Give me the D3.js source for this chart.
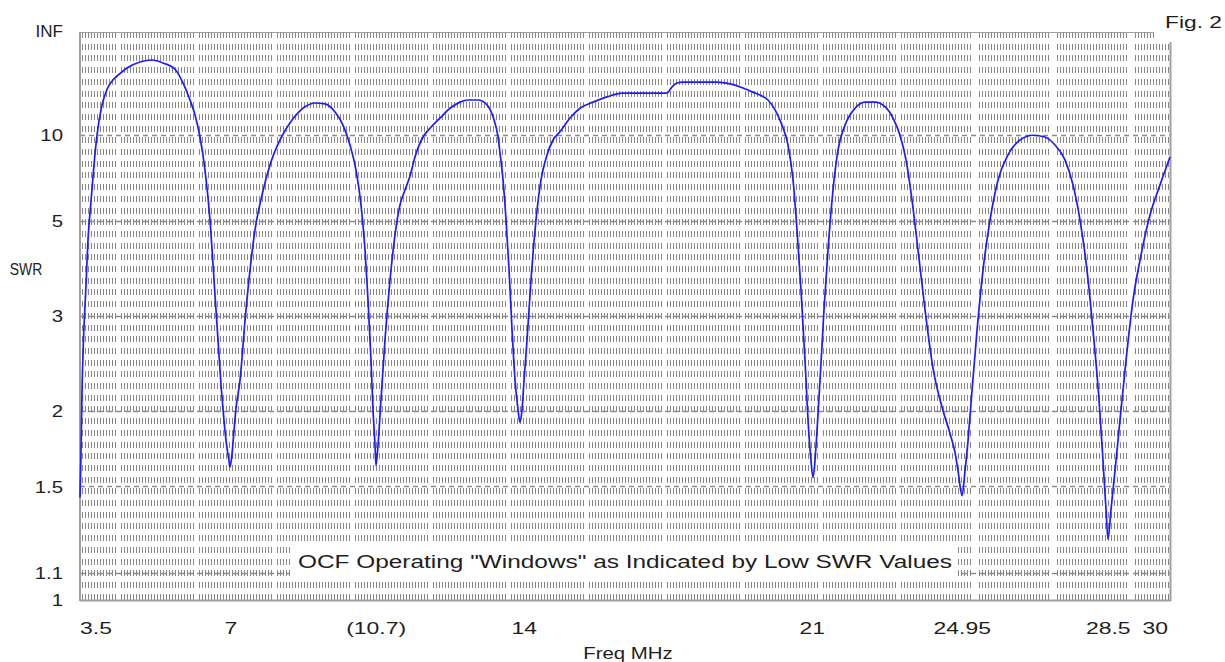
<!DOCTYPE html>
<html><head><meta charset="utf-8">
<script src="https://cdn.jsdelivr.net/npm/d3@7/dist/d3.min.js"></script>
<style>
body{margin:0;background:#fff;}
svg{display:block;}
text{font-family:"Liberation Sans",Arial,sans-serif;fill:#1e1e1e;}
</style>
</head><body>
<svg id="chart" width="1225" height="662"></svg>
<script>
// ---------------- data ----------------
const freqMHz = [
  3.50,3.524,3.549,3.585,3.646,3.694,3.760,3.840,3.913,4.028,4.149,4.302,4.448,4.643,4.959,5.250,5.518,5.810,6.004,6.174,6.296,6.417,6.539,6.661,6.758,6.855,6.928,6.977,7.050,7.122,7.147,
  7.195,7.244,7.293,7.390,7.512,7.633,7.755,7.925,8.119,8.362,8.654,8.970,9.213,9.456,9.700,9.894,10.064,10.210,10.332,10.429,10.502,10.575,10.623,10.672,10.696,
  10.745,10.818,10.915,11.037,11.158,11.280,11.401,11.523,11.644,11.839,12.009,12.252,12.496,12.739,12.933,13.176,13.395,13.541,13.663,13.711,13.784,13.858,13.931,14.004,14.077,14.149,14.198,
  14.246,14.295,14.368,14.465,14.586,14.708,14.854,14.999,15.170,15.413,15.656,15.972,16.312,16.677,17.236,17.771,17.893,18.014,18.160,18.573,18.987,19.303,19.619,19.862,20.033,20.227,20.397,20.567,20.713,20.835,20.932,21.029,21.126,21.199,21.272,21.321,
  21.369,21.418,21.491,21.588,21.685,21.807,21.929,22.099,22.342,22.585,22.828,23.071,23.266,23.436,23.582,23.728,23.874,24.044,24.238,24.482,24.652,24.774,24.846,24.944,
  25.017,25.090,25.187,25.309,25.454,25.624,25.819,26.062,26.354,26.670,26.961,27.204,27.447,27.642,27.812,27.982,28.128,28.274,28.371,28.444,28.493,
  28.566,28.663,28.785,28.931,29.101,29.271,29.514,29.757,30.000
];
const swrValues = [
  1.44,1.69,2.17,2.69,3.49,4.46,5.57,7.54,10.0,14.3,18.6,22.7,25.8,30.6,36.9,39.6,35.7,29.5,21.3,15.7,12.7,9.82,7.23,5.04,3.58,2.69,2.22,2.01,1.78,1.65,1.61,
  1.69,1.85,2.02,2.26,2.94,3.77,4.74,5.97,7.54,9.52,11.9,14.2,15.0,14.8,13.2,11.2,9.05,7.23,5.57,4.21,3.24,2.46,2.01,1.75,1.62,
  1.75,2.09,2.69,3.58,4.60,5.57,6.19,6.89,8.09,9.82,10.8,12.2,13.9,15.2,15.7,15.7,14.6,12.4,9.82,8.39,6.68,5.04,3.77,2.81,2.26,2.01,1.91,
  2.01,2.26,2.69,3.58,5.04,6.68,8.24,9.52,10.4,12.2,13.9,15.2,16.5,17.6,17.6,17.6,19.7,21.3,21.7,21.7,21.7,20.9,19.3,17.9,17.0,15.7,13.6,11.2,9.05,6.68,4.74,3.40,2.46,1.93,1.65,1.55,
  1.65,1.85,2.26,3.09,4.21,6.19,8.63,11.2,13.9,15.2,15.2,14.2,12.2,10.0,7.88,5.76,4.21,3.09,2.38,2.00,1.83,1.70,1.59,1.45,
  1.59,1.78,2.17,2.81,3.77,5.04,6.68,8.24,9.52,10.0,9.82,9.05,7.88,6.43,5.04,3.77,2.81,2.09,1.65,1.38,1.24,
  1.38,1.59,1.93,2.46,3.24,3.98,5.21,6.43,8.09
];
const yTickValues = [Infinity, 10, 5, 3, 2, 1.5, 1.1, 1];
const yTickLabels = ["INF", "10", "5", "3", "2", "1.5", "1.1", "1"];
const dashedLevels = [10, 5, 3, 2, 1.5, 1.1];
const xTickPositions = [3.5, 7.17, 10.7, 14.3, 21.3, 24.95, 28.5, 30];
const xTickLabels = ["3.5", "7", "(10.7)", "14", "21", "24.95", "28.5", "30"];
const xTitle = "Freq MHz";
const yTitle = "SWR";
const figLabel = "Fig. 2";
const caption = 'OCF Operating "Windows" as Indicated by Low SWR Values';

// ---------------- layout ----------------
const L = 80, R = 1170, T = 32, B = 600;
const svg = d3.select("#chart");
const x = d3.scaleLinear().domain([3.5, 30]).range([L, R]);
const rhoScale = d3.scaleLinear().domain([0, 1]).range([B, T]);
const rho = s => (s === Infinity ? 1 : (s - 1) / (s + 1));
const y = s => rhoScale(rho(s));

const gridColor = "#868686";

// background texture rows (short vertical ticks)
const rowYs = d3.range(49).map(k => Math.round(35 + k * 11.70));
svg.append("g").selectAll("line").data(rowYs).join("line")
  .attr("x1", L + 2).attr("x2", R - 1)
  .attr("y1", d => d).attr("y2", d => d)
  .attr("stroke", gridColor).attr("stroke-width", 6)
  .attr("stroke-dasharray", "1,2")
  .attr("shape-rendering", "crispEdges");

// white vertical gaps in the texture
const gapXs = d3.range(14).map(k => Math.round(119 + k * 77.86));
svg.append("g").selectAll("rect").data(gapXs).join("rect")
  .attr("x", d => d - 2).attr("y", T).attr("width", 4).attr("height", B - T)
  .attr("fill", "#fff");

// dashed reference levels
svg.append("g").selectAll("line").data(dashedLevels).join("line")
  .attr("x1", L).attr("x2", R)
  .attr("y1", d => Math.round(y(d)) + 0.5).attr("y2", d => Math.round(y(d)) + 0.5)
  .attr("stroke", "#8a8a8a").attr("stroke-width", 1.3)
  .attr("stroke-dasharray", "5,4");

// frame
const frame = svg.append("g").attr("stroke", "#a0a0a0").attr("fill", "none");
frame.append("line").attr("x1", L).attr("x2", L).attr("y1", T).attr("y2", B + 1).attr("stroke-width", 2);
frame.append("line").attr("x1", L).attr("x2", R + 1).attr("y1", B + 0.5).attr("y2", B + 0.5).attr("stroke-width", 2);
frame.append("line").attr("x1", R + 0.5).attr("x2", R + 0.5).attr("y1", T).attr("y2", B + 1).attr("stroke-width", 2);
frame.append("line").attr("x1", L).attr("x2", R).attr("y1", T + 0.5).attr("y2", T + 0.5).attr("stroke-width", 1);

// caption box
svg.append("rect").attr("x", 290).attr("y", 543).attr("width", 668).attr("height", 38).attr("fill", "#fff");
svg.append("text").attr("x", 625).attr("y", 562).attr("dy", "0.36em")
  .attr("text-anchor", "middle").attr("font-size", 17.5)
  .attr("textLength", 654).attr("lengthAdjust", "spacingAndGlyphs")
  .text(caption);

// curve
const pts = freqMHz.map((f, i) => [f, swrValues[i]]);
svg.append("path").datum(pts)
  .attr("d", d3.line().x(d => x(d[0])).y(d => y(d[1])).curve(d3.curveMonotoneX))
  .attr("fill", "none").attr("stroke", "#1c1cff").attr("stroke-width", 1.7);

// helper for horizontally-stretched labels
function label(px, py, txt, anchor, sx, size) {
  svg.append("text")
    .attr("transform", `translate(${px},${py}) scale(${sx},1)`)
    .attr("text-anchor", anchor).attr("dy", "0.36em")
    .attr("font-size", size || 17)
    .text(txt);
}

// y tick labels
yTickValues.forEach((v, i) => {
  const t = yTickLabels[i];
  label(63, y(v) + (v === Infinity ? -1 : 0), t, "end", t === "INF" ? 1.0 : 1.2);
});

// x tick labels
xTickPositions.forEach((p, i) => {
  const last = i === xTickPositions.length - 1;
  const anchor = i === 0 ? "start" : (last ? "end" : "middle");
  label(x(p) + (last ? -2 : 0), 628, xTickLabels[i], anchor, 1.35);
});

// titles
label(26, 269, yTitle, "middle", 0.82);
label(628, 653, xTitle, "middle", 1.2);
svg.append("rect").attr("x", 1154).attr("y", 0).attr("width", 71).attr("height", 42).attr("fill", "#fff");
label(1222, 22, figLabel, "end", 1.34);
</script>
</body></html>
